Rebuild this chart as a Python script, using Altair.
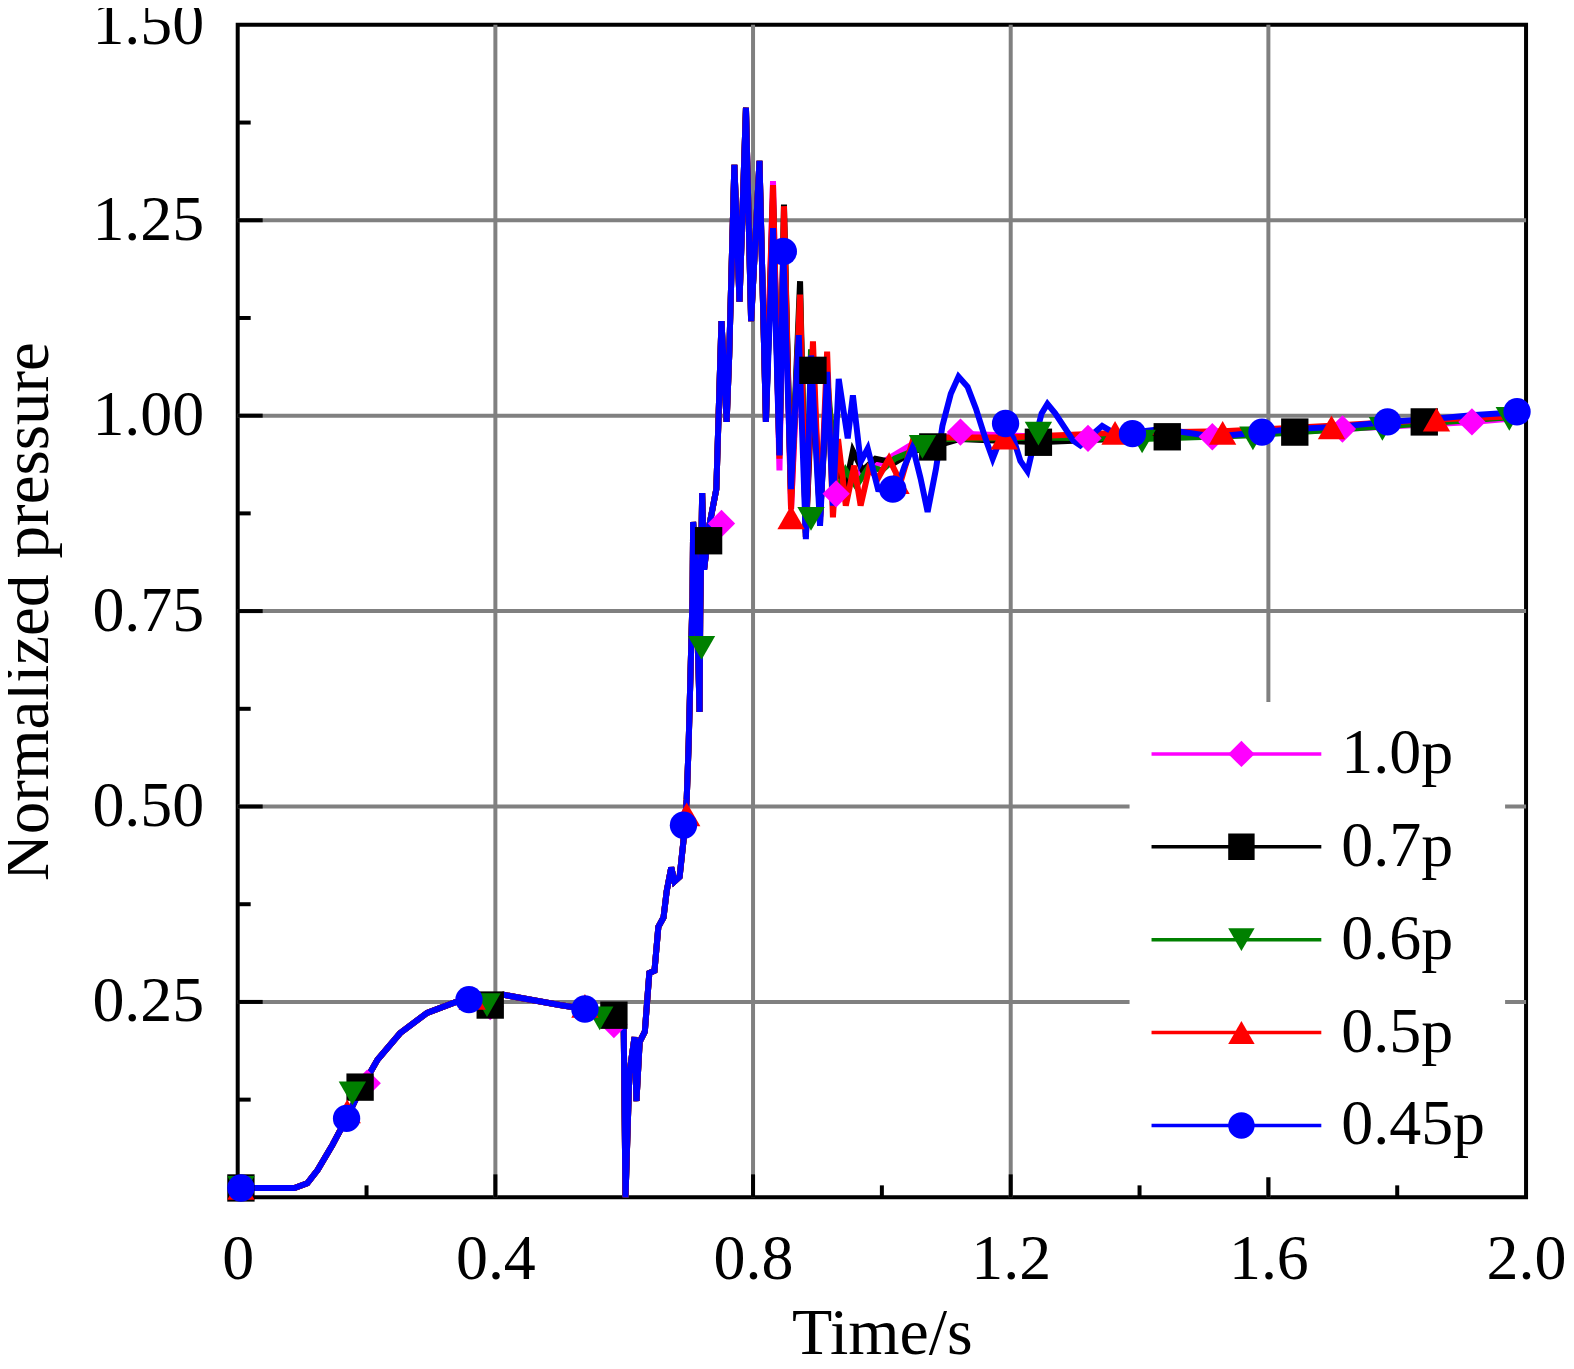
import altair as alt
import pandas as pd

FONT = "Liberation Serif"
SERIES = ["1.0p", "0.7p", "0.6p", "0.5p", "0.45p"]
COLORS = ["#ff00ff", "#000000", "#008000", "#ff0000", "#0000ff"]
SHAPES = ["diamond", "square", "triangle-down", "triangle-up", "circle"]

# common part of all curves (t <= 0.82 s)
common_t = [0.0, 0.088, 0.108, 0.124, 0.147, 0.169, 0.190, 0.217, 0.252, 0.294, 0.336, 0.361,
            0.413, 0.500, 0.539, 0.599, 0.602, 0.608, 0.616, 0.619, 0.624, 0.632, 0.639, 0.647,
            0.653, 0.661, 0.666, 0.673, 0.678, 0.686, 0.692, 0.697, 0.700, 0.703, 0.706, 0.707,
            0.712, 0.717, 0.718, 0.721, 0.724, 0.732, 0.743, 0.751, 0.759, 0.763, 0.771, 0.779,
            0.789, 0.797, 0.810, 0.820]
common_v = [0.012, 0.012, 0.018, 0.035, 0.067, 0.101, 0.137, 0.176, 0.210, 0.236, 0.249, 0.254,
            0.259, 0.246, 0.241, 0.236, 0.0, 0.158, 0.205, 0.123, 0.199, 0.212, 0.287, 0.290,
            0.346, 0.358, 0.392, 0.422, 0.404, 0.410, 0.456, 0.509, 0.579, 0.673, 0.767, 0.864,
            0.785, 0.621, 0.744, 0.901, 0.803, 0.859, 0.906, 1.121, 0.992, 1.077, 1.321, 1.146,
            1.394, 1.121, 1.326, 0.992]

# tails (t > 0.82 s)
mag_tail_t = [0.831, 0.841, 0.848, 0.859, 0.873, 0.882, 0.893, 0.904, 0.915, 0.929, 0.950, 0.970,
              1.000, 1.050, 1.122, 1.320, 1.513, 1.715, 1.916, 2.0]
mag_tail_v = [1.300, 0.930, 1.250, 0.880, 1.130, 0.850, 1.070, 0.870, 1.040, 0.900, 0.920, 0.930,
              0.940, 0.965, 0.977, 0.971, 0.973, 0.983, 0.992, 0.998]

blk_tail_t = [0.831, 0.841, 0.848, 0.859, 0.873, 0.882, 0.893, 0.904, 0.915, 0.930, 0.944, 0.955,
              0.970, 0.990, 1.020, 1.050, 1.079, 1.120, 1.243, 1.443, 1.641, 1.842, 2.0]
blk_tail_v = [1.280, 0.950, 1.270, 0.895, 1.172, 0.845, 1.060, 0.870, 1.030, 0.930, 0.910, 0.955,
              0.930, 0.945, 0.940, 0.955, 0.960, 0.970, 0.966, 0.973, 0.979, 0.992, 1.000]

grn_tail_t = [0.831, 0.841, 0.848, 0.859, 0.873, 0.882, 0.890, 0.904, 0.915, 0.930, 0.944, 0.960,
              0.980, 1.000, 1.020, 1.063, 1.100, 1.243, 1.404, 1.576, 1.777, 1.974, 2.0]
grn_tail_v = [1.270, 0.955, 1.250, 0.900, 1.150, 0.850, 1.085, 0.870, 1.050, 0.900, 0.930, 0.910,
              0.935, 0.930, 0.945, 0.960, 0.970, 0.972, 0.970, 0.975, 0.986, 0.998, 1.000]

red_tail_t = [0.831, 0.841, 0.848, 0.859, 0.873, 0.882, 0.893, 0.904, 0.915, 0.924, 0.932, 0.944,
              0.957, 0.967, 0.980, 0.994, 1.011, 1.029, 1.048, 1.080, 1.190, 1.362, 1.529, 1.698,
              1.861, 2.0]
red_tail_v = [1.295, 0.945, 1.268, 0.880, 1.155, 0.845, 1.095, 0.862, 1.082, 0.870, 0.970, 0.885,
              0.936, 0.885, 0.932, 0.920, 0.945, 0.915, 0.968, 0.972, 0.972, 0.978, 0.980, 0.987,
              0.995, 1.000]

blu_tail_t = [0.831, 0.841, 0.847, 0.859, 0.871, 0.882, 0.890, 0.904, 0.915, 0.924, 0.933, 0.947,
              0.955, 0.967, 0.978, 0.994, 1.022, 1.035, 1.048, 1.060, 1.071, 1.084, 1.094, 1.107,
              1.119, 1.133, 1.146, 1.161, 1.172, 1.181, 1.192, 1.204, 1.215, 1.226, 1.238, 1.248,
              1.257, 1.269, 1.285, 1.297, 1.308, 1.324, 1.342, 1.354, 1.367, 1.393, 1.435, 1.517,
              1.590, 1.641, 1.711, 1.785, 1.858, 1.920, 2.0]
blu_tail_v = [1.240, 0.949, 1.210, 0.906, 1.103, 0.842, 1.077, 0.859, 1.056, 0.885, 1.047, 0.971,
              1.026, 0.941, 0.958, 0.906, 0.904, 0.935, 0.960, 0.920, 0.877, 0.932, 0.987, 1.028,
              1.050, 1.037, 1.009, 0.970, 0.945, 0.964, 0.987, 0.971, 0.942, 0.929, 0.971, 1.003,
              1.015, 1.003, 0.983, 0.968, 0.962, 0.974, 0.987, 0.981, 0.974, 0.979, 0.983, 0.973,
              0.979, 0.983, 0.986, 0.992, 0.996, 1.001, 1.005]

# marker positions
mag_mt = [0.005, 0.201, 0.392, 0.584, 0.751, 0.929, 1.122, 1.320, 1.513, 1.715, 1.916]
mag_mv = [0.012, 0.146, 0.244, 0.221, 0.862, 0.900, 0.979, 0.971, 0.973, 0.983, 0.992]
blk_mt = [0.005, 0.190, 0.392, 0.584, 0.731, 0.893, 1.079, 1.243, 1.443, 1.641, 1.842]
blk_mv = [0.012, 0.141, 0.246, 0.233, 0.840, 1.058, 0.960, 0.966, 0.973, 0.979, 0.992]
grn_mt = [0.005, 0.178, 0.387, 0.562, 0.720, 0.890, 1.063, 1.243, 1.404, 1.576, 1.777, 1.974]
grn_mv = [0.012, 0.133, 0.246, 0.229, 0.703, 0.868, 0.960, 0.977, 0.967, 0.971, 0.983, 0.996]
red_mt = [0.005, 0.170, 0.364, 0.539, 0.697, 0.859, 1.022, 1.190, 1.362, 1.529, 1.698, 1.861]
red_mv = [0.012, 0.110, 0.255, 0.245, 0.490, 0.870, 0.915, 0.972, 0.978, 0.978, 0.985, 0.995]
blu_mt = [0.005, 0.169, 0.359, 0.539, 0.692, 0.847, 1.017, 1.192, 1.389, 1.590, 1.785, 1.986]
blu_mv = [0.012, 0.101, 0.253, 0.241, 0.476, 1.210, 0.906, 0.990, 0.977, 0.979, 0.992, 1.005]

# axes
x_labels = [0, 0.4, 0.8, 1.2, 1.6, 2.0]
y_labels = [0.25, 0.5, 0.75, 1.0, 1.25, 1.5]
x_grid = [0.4, 0.8, 1.2, 1.6]
y_grid = [0.25, 0.5, 0.75, 1.0, 1.25]
x_major_ticks = [0.4, 0.8, 1.2, 1.6]
x_minor_ticks = [0.2, 0.6, 1.0, 1.4, 1.8]
y_major_ticks = [0.25, 0.5, 0.75, 1.0, 1.25]
y_minor_ticks = [0.125, 0.375, 0.625, 0.875, 1.125, 1.375]

W, H = 1290, 1174

tails_t = [mag_tail_t, blk_tail_t, grn_tail_t, red_tail_t, blu_tail_t]
tails_v = [mag_tail_v, blk_tail_v, grn_tail_v, red_tail_v, blu_tail_v]
line_rows = []
for name, tt, vv in zip(SERIES, tails_t, tails_v):
    for t, v in zip(common_t + tt, common_v + vv):
        line_rows.append({"t": t, "v": v, "series": name})
lines_df = pd.DataFrame(line_rows)

mts = [mag_mt, blk_mt, grn_mt, red_mt, blu_mt]
mvs = [mag_mv, blk_mv, grn_mv, red_mv, blu_mv]
mrows = []
for name, tt, vv in zip(SERIES, mts, mvs):
    for t, v in zip(tt, vv):
        mrows.append({"t": t, "v": v, "mseries": name})
markers_df = pd.DataFrame(mrows)

x_axis = alt.Axis(values=x_labels, labelExpr="datum.value == 0 ? '0' : format(datum.value, '.1f')",
                  grid=False, ticks=False, domain=False, labelFont=FONT, labelFontSize=64,
                  labelColor="black", labelPadding=30, labelFlush=False, labelOverlap=False,
                  title="Time/s", titleFont=FONT, titleFontSize=66, titleFontWeight="normal",
                  titleColor="black", titlePadding=10)
y_axis = alt.Axis(values=y_labels, format=".2f", grid=False, ticks=False, domain=False,
                  labelFont=FONT, labelFontSize=64, labelColor="black", labelPadding=34,
                  labelFlush=False, labelOverlap=False,
                  title="Normalized pressure", titleFont=FONT, titleFontSize=65,
                  titleFontWeight="normal", titleColor="black", titlePadding=30)

xs = alt.Scale(domain=[0, 2], nice=False, zero=False)
ys = alt.Scale(domain=[0, 1.5], nice=False, zero=False)
X = alt.X("t:Q", scale=xs, axis=x_axis)
Y = alt.Y("v:Q", scale=ys, axis=y_axis)

grid_x = alt.Chart(pd.DataFrame({"t": x_grid})).mark_rule(color="#808080", strokeWidth=4).encode(x=X)
grid_y = alt.Chart(pd.DataFrame({"v": y_grid})).mark_rule(color="#808080", strokeWidth=4).encode(y=Y)

tick_xM = alt.Chart(pd.DataFrame({"t": x_major_ticks})).mark_rule(color="black", strokeWidth=4).encode(
    x=X, y=alt.value(H), y2=alt.value(H - 23))
tick_xm = alt.Chart(pd.DataFrame({"t": x_minor_ticks})).mark_rule(color="black", strokeWidth=4).encode(
    x=X, y=alt.value(H), y2=alt.value(H - 12))
tick_yM = alt.Chart(pd.DataFrame({"v": y_major_ticks})).mark_rule(color="black", strokeWidth=4).encode(
    y=Y, x=alt.value(0), x2=alt.value(25))
tick_ym = alt.Chart(pd.DataFrame({"v": y_minor_ticks})).mark_rule(color="black", strokeWidth=4).encode(
    y=Y, x=alt.value(0), x2=alt.value(13))

legA = alt.Legend(orient="none", legendX=893, legendY=678, title=None, symbolType="stroke",
                  symbolSize=28900, symbolStrokeWidth=3.5, clipHeight=64, rowPadding=29, padding=20,
                  labelOffset=18, labelFont=FONT, labelFontSize=64, labelColor="black",
                  fillColor="white", zindex=1)
legB = alt.Legend(orient="none", legendX=973, legendY=698, title=None, symbolSize=700,
                  symbolStrokeWidth=0, clipHeight=64, rowPadding=29, padding=0, labelExpr="''",
                  labelFont=FONT, labelFontSize=64, zindex=2)

lines = alt.Chart(lines_df).mark_line(strokeWidth=6).encode(
    x=X, y=Y,
    color=alt.Color("series:N", scale=alt.Scale(domain=SERIES, range=COLORS), legend=legA),
)
markers = alt.Chart(markers_df).mark_point(filled=True, size=750, opacity=1).encode(
    x=X, y=Y,
    color=alt.Color("mseries:N", scale=alt.Scale(domain=SERIES, range=COLORS), legend=legB),
    shape=alt.Shape("mseries:N", scale=alt.Scale(domain=SERIES, range=SHAPES), legend=legB),
)

chart = alt.layer(grid_x, grid_y, tick_xM, tick_xm, tick_yM, tick_ym, lines, markers).resolve_scale(
    color="independent", shape="independent"
).properties(
    width=W, height=H,
    autosize=alt.AutoSizeParams(type="none"),
    padding={"left": 230, "top": 16, "right": 40, "bottom": 158},
    background="white",
).configure_view(stroke="black", strokeWidth=4)

chart.save("out.html", embed_options={"renderer": "svg", "actions": False})
